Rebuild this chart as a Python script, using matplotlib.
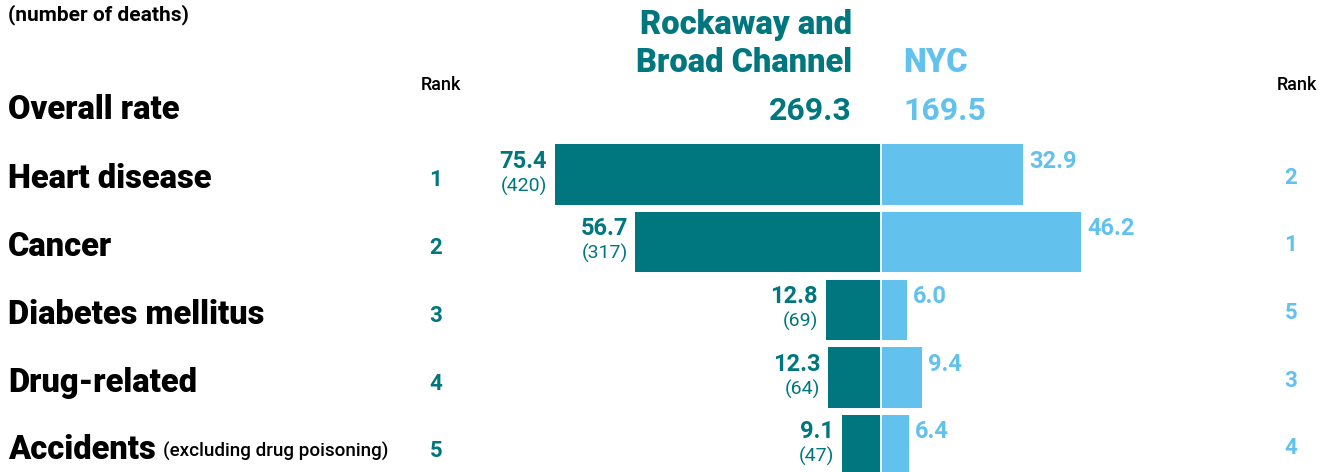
import matplotlib.pyplot as plt

# age-adjusted death rates, Rockaway & Broad Channel vs NYC
causes = ['Heart disease', 'Cancer', 'Diabetes mellitus', 'Drug-related', 'Accidents']
rockaway = [75.4, 56.7, 12.8, 12.3, 9.1]
deaths = [420, 317, 69, 64, 47]
nyc = [32.9, 46.2, 6.0, 9.4, 6.4]
rank_rockaway = [1, 2, 3, 4, 5]
rank_nyc = [2, 1, 5, 3, 4]
overall_rockaway = 269.3
overall_nyc = 169.5

TEAL = '#00777f'
BLUE = '#63c2ed'
W, H = 1324, 472

plt.rcParams['font.family'] = ['Roboto', 'DejaVu Sans']

fig = plt.figure(figsize=(W / 100, H / 100), dpi=100)
ax = fig.add_axes([0, 0, 1, 1])
ax.axis('off')

# x in rate units (0 = centre line), y in row units
px_unit = 4.33
x0 = 881
row0, row_h = 174.5, 67.7
ax.set_xlim(-x0 / px_unit, (W - x0) / px_unit)
ax.set_ylim((H - row0) / row_h, -row0 / row_h)


def fx(px):
    return px / W


def fy(py):
    return 1 - py / H


rows = list(range(len(causes)))
ax.barh(rows, [-v for v in rockaway], height=0.895, color=TEAL)
ax.barh(rows, nyc, height=0.895, color=BLUE)
ax.axvline(0, color='white', lw=1.3)

for i in rows:
    ax.annotate(f'{rockaway[i]:.1f}', (-rockaway[i], i), xytext=(-5.5, 9.6),
                textcoords='offset points', ha='right', va='center',
                fontsize=17, fontweight='bold', color=TEAL)
    ax.annotate(f'({deaths[i]})', (-rockaway[i], i), xytext=(-5.5, -8.3),
                textcoords='offset points', ha='right', va='center',
                fontsize=14, color=TEAL)
    ax.annotate(f'{nyc[i]:.1f}', (nyc[i], i), xytext=(4.5, 9.6),
                textcoords='offset points', ha='left', va='center',
                fontsize=17, fontweight='bold', color=BLUE)

    yc = row0 + row_h * i
    fig.text(fx(8), fy(yc + 5), causes[i], ha='left', va='center',
             fontsize=23.5, fontweight='black', color='black')
    fig.text(fx(436), fy(yc + 6), str(rank_rockaway[i]), ha='center', va='center',
             fontsize=16, fontweight='bold', color=TEAL)
    fig.text(fx(1291), fy(yc + 3), str(rank_nyc[i]), ha='center', va='center',
             fontsize=16, fontweight='bold', color=BLUE)

fig.text(fx(163), fy(row0 + row_h * 4 + 6), '(excluding drug poisoning)',
         ha='left', va='center', fontsize=13.6, fontweight='medium', color='black')

# header
fig.text(fx(8), fy(15), '(number of deaths)', ha='left', va='center',
         fontsize=15, fontweight='bold', color='black')
fig.text(fx(8), fy(110), 'Overall rate', ha='left', va='center',
         fontsize=23.5, fontweight='black', color='black')
fig.text(fx(441), fy(85), 'Rank', ha='center', va='center', fontsize=13,
         fontweight='medium', color='black')
fig.text(fx(1297), fy(85), 'Rank', ha='center', va='center', fontsize=13,
         fontweight='medium', color='black')

fig.text(fx(852), fy(25), 'Rockaway and', ha='right', va='center',
         fontsize=23.5, fontweight='black', color=TEAL)
fig.text(fx(852), fy(63), 'Broad Channel', ha='right', va='center',
         fontsize=23.5, fontweight='black', color=TEAL)
fig.text(fx(903), fy(63), 'NYC', ha='left', va='center',
         fontsize=23.5, fontweight='black', color=BLUE)
fig.text(fx(852), fy(111), f'{overall_rockaway:.1f}', ha='right', va='center',
         fontsize=23, fontweight='bold', color=TEAL)
fig.text(fx(903), fy(111), f'{overall_nyc:.1f}', ha='left', va='center',
         fontsize=23, fontweight='bold', color=BLUE)

fig.savefig('out.png', dpi=100)
